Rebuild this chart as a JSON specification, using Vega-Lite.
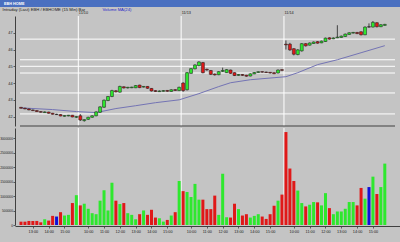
{
"$schema": "https://vega.github.io/schema/vega-lite/v6.json",
"width": 400, "height": 235,
"autosize": {"type": "none"},
"padding": {"left": 0, "top": 7, "right": 0, "bottom": 0},
"background": "#4a70c0",
"title": {"text": "EBH HOME", "anchor": "start", "frame": "group", "offset": 1, "fontSize": 3.8, "color": "#ffffff", "font": "Liberation Sans", "fontWeight": "bold", "dx": 4},
"config": {
  "view": {"fill": "#c4c4c4", "stroke": null},
  "axis": {"labelFont": "Liberation Sans", "labelFontSize": 3.8, "labelColor": "#1a1a1a", "grid": false, "tickColor": "#404040", "domainColor": "#404040", "domainWidth": 1, "tickWidth": 0.8, "tickSize": 2, "labelPadding": 1, "labelFlush": false, "labelOverlap": false}
},
"datasets": {
  "bars": [
    {"i":0,"o":42.55,"h":42.58,"l":42.48,"c":42.50,"v":115000,"d":"down"},
    {"i":1,"o":42.50,"h":42.53,"l":42.44,"c":42.46,"v":115000,"d":"down"},
    {"i":2,"o":42.46,"h":42.48,"l":42.38,"c":42.40,"v":140000,"d":"down"},
    {"i":3,"o":42.40,"h":42.42,"l":42.33,"c":42.36,"v":140000,"d":"down"},
    {"i":4,"o":42.36,"h":42.38,"l":42.28,"c":42.30,"v":140000,"d":"down"},
    {"i":5,"o":42.30,"h":42.32,"l":42.24,"c":42.26,"v":93000,"d":"down"},
    {"i":6,"o":42.24,"h":42.31,"l":42.22,"c":42.28,"v":198000,"d":"up"},
    {"i":7,"o":42.27,"h":42.29,"l":42.18,"c":42.20,"v":152000,"d":"down"},
    {"i":8,"o":42.20,"h":42.22,"l":42.12,"c":42.14,"v":315000,"d":"down"},
    {"i":9,"o":42.14,"h":42.17,"l":42.10,"c":42.12,"v":292000,"d":"flat"},
    {"i":10,"o":42.12,"h":42.14,"l":42.02,"c":42.04,"v":443000,"d":"down"},
    {"i":11,"o":42.02,"h":42.08,"l":42.00,"c":42.06,"v":327000,"d":"up"},
    {"i":12,"o":42.04,"h":42.10,"l":42.02,"c":42.08,"v":350000,"d":"up"},
    {"i":13,"o":42.08,"h":42.10,"l":41.96,"c":41.98,"v":758000,"d":"down"},
    {"i":14,"o":41.96,"h":42.03,"l":41.92,"c":42.00,"v":1030000,"d":"up"},
    {"i":15,"o":42.05,"h":42.15,"l":41.74,"c":41.80,"v":677000,"d":"down"},
    {"i":16,"o":41.76,"h":41.84,"l":41.70,"c":41.82,"v":735000,"d":"up"},
    {"i":17,"o":41.84,"h":41.99,"l":41.80,"c":41.96,"v":560000,"d":"up"},
    {"i":18,"o":41.96,"h":42.08,"l":41.93,"c":42.05,"v":408000,"d":"up"},
    {"i":19,"o":42.05,"h":42.32,"l":42.02,"c":42.28,"v":373000,"d":"up"},
    {"i":20,"o":42.26,"h":42.62,"l":42.22,"c":42.58,"v":840000,"d":"up"},
    {"i":21,"o":42.56,"h":43.02,"l":42.52,"c":42.98,"v":1200000,"d":"up"},
    {"i":22,"o":42.96,"h":43.23,"l":42.92,"c":43.20,"v":502000,"d":"up"},
    {"i":23,"o":43.20,"h":43.60,"l":43.16,"c":43.55,"v":1460000,"d":"up"},
    {"i":24,"o":43.54,"h":43.58,"l":43.44,"c":43.48,"v":840000,"d":"down"},
    {"i":25,"o":43.46,"h":43.84,"l":43.43,"c":43.80,"v":723000,"d":"up"},
    {"i":26,"o":43.78,"h":43.80,"l":43.68,"c":43.71,"v":758000,"d":"down"},
    {"i":27,"o":43.71,"h":43.77,"l":43.68,"c":43.75,"v":408000,"d":"up"},
    {"i":28,"o":43.72,"h":43.78,"l":43.70,"c":43.76,"v":350000,"d":"up"},
    {"i":29,"o":43.72,"h":43.88,"l":43.70,"c":43.85,"v":198000,"d":"up"},
    {"i":30,"o":43.88,"h":43.90,"l":43.70,"c":43.73,"v":373000,"d":"down"},
    {"i":31,"o":43.76,"h":43.82,"l":43.74,"c":43.80,"v":502000,"d":"up"},
    {"i":32,"o":43.80,"h":43.82,"l":43.66,"c":43.69,"v":350000,"d":"down"},
    {"i":33,"o":43.68,"h":43.70,"l":43.50,"c":43.53,"v":525000,"d":"down"},
    {"i":34,"o":43.55,"h":43.57,"l":43.47,"c":43.50,"v":257000,"d":"down"},
    {"i":35,"o":43.49,"h":43.56,"l":43.47,"c":43.53,"v":233000,"d":"up"},
    {"i":36,"o":43.51,"h":43.58,"l":43.49,"c":43.55,"v":117000,"d":"up"},
    {"i":37,"o":43.56,"h":43.58,"l":43.48,"c":43.51,"v":175000,"d":"down"},
    {"i":38,"o":43.50,"h":43.63,"l":43.48,"c":43.60,"v":327000,"d":"up"},
    {"i":39,"o":43.61,"h":43.63,"l":43.53,"c":43.56,"v":443000,"d":"down"},
    {"i":40,"o":43.55,"h":43.78,"l":43.53,"c":43.75,"v":1520000,"d":"up"},
    {"i":41,"o":44.00,"h":44.05,"l":43.48,"c":43.55,"v":1170000,"d":"down"},
    {"i":42,"o":43.60,"h":44.66,"l":43.56,"c":44.62,"v":1140000,"d":"up"},
    {"i":43,"o":44.58,"h":44.90,"l":44.55,"c":44.86,"v":968000,"d":"up"},
    {"i":44,"o":44.85,"h":45.12,"l":44.82,"c":45.08,"v":1420000,"d":"up"},
    {"i":45,"o":45.04,"h":45.30,"l":45.00,"c":45.26,"v":875000,"d":"up"},
    {"i":46,"o":45.22,"h":45.26,"l":44.58,"c":44.62,"v":875000,"d":"down"},
    {"i":47,"o":44.82,"h":44.86,"l":44.74,"c":44.78,"v":548000,"d":"down"},
    {"i":48,"o":44.75,"h":44.78,"l":44.48,"c":44.52,"v":548000,"d":"down"},
    {"i":49,"o":44.54,"h":44.57,"l":44.45,"c":44.49,"v":1015000,"d":"down"},
    {"i":50,"o":44.50,"h":44.71,"l":44.47,"c":44.68,"v":350000,"d":"up"},
    {"i":51,"o":44.70,"h":44.92,"l":44.66,"c":44.75,"v":1770000,"d":"up"},
    {"i":52,"o":44.62,"h":44.83,"l":44.60,"c":44.80,"v":268000,"d":"up"},
    {"i":53,"o":44.78,"h":44.80,"l":44.55,"c":44.58,"v":257000,"d":"down"},
    {"i":54,"o":44.62,"h":44.64,"l":44.42,"c":44.45,"v":735000,"d":"down"},
    {"i":55,"o":44.46,"h":44.53,"l":44.44,"c":44.51,"v":548000,"d":"up"},
    {"i":56,"o":44.51,"h":44.53,"l":44.43,"c":44.46,"v":327000,"d":"down"},
    {"i":57,"o":44.47,"h":44.49,"l":44.38,"c":44.41,"v":373000,"d":"down"},
    {"i":58,"o":44.42,"h":44.58,"l":44.40,"c":44.55,"v":257000,"d":"up"},
    {"i":59,"o":44.55,"h":44.66,"l":44.53,"c":44.63,"v":315000,"d":"up"},
    {"i":60,"o":44.63,"h":44.70,"l":44.61,"c":44.68,"v":373000,"d":"up"},
    {"i":61,"o":44.68,"h":44.70,"l":44.62,"c":44.65,"v":292000,"d":"down"},
    {"i":62,"o":44.66,"h":44.68,"l":44.60,"c":44.63,"v":210000,"d":"down"},
    {"i":63,"o":44.64,"h":44.66,"l":44.57,"c":44.60,"v":373000,"d":"down"},
    {"i":64,"o":44.62,"h":44.64,"l":44.53,"c":44.56,"v":665000,"d":"down"},
    {"i":65,"o":44.60,"h":44.81,"l":44.57,"c":44.78,"v":840000,"d":"up"},
    {"i":66,"o":44.80,"h":44.82,"l":44.73,"c":44.76,"v":1050000,"d":"down"},
    {"i":67,"o":46.32,"h":46.54,"l":46.00,"c":46.28,"v":3210000,"d":"down"},
    {"i":68,"o":46.32,"h":46.40,"l":45.92,"c":45.98,"v":1950000,"d":"down"},
    {"i":69,"o":46.05,"h":46.08,"l":45.65,"c":45.72,"v":1520000,"d":"down"},
    {"i":70,"o":45.70,"h":46.02,"l":45.66,"c":45.98,"v":1190000,"d":"up"},
    {"i":71,"o":45.92,"h":46.38,"l":45.88,"c":46.35,"v":758000,"d":"up"},
    {"i":72,"o":46.35,"h":46.38,"l":46.18,"c":46.22,"v":642000,"d":"down"},
    {"i":73,"o":46.26,"h":46.42,"l":46.24,"c":46.39,"v":700000,"d":"up"},
    {"i":74,"o":46.36,"h":46.48,"l":46.34,"c":46.45,"v":793000,"d":"up"},
    {"i":75,"o":46.47,"h":46.50,"l":46.35,"c":46.38,"v":782000,"d":"down"},
    {"i":76,"o":46.40,"h":46.53,"l":46.38,"c":46.50,"v":677000,"d":"up"},
    {"i":77,"o":46.48,"h":46.71,"l":46.46,"c":46.68,"v":1100000,"d":"up"},
    {"i":78,"o":46.70,"h":46.73,"l":46.59,"c":46.62,"v":583000,"d":"down"},
    {"i":79,"o":46.64,"h":46.72,"l":46.62,"c":46.69,"v":373000,"d":"up"},
    {"i":80,"o":46.70,"h":47.45,"l":46.68,"c":46.74,"v":467000,"d":"up"},
    {"i":81,"o":46.72,"h":46.83,"l":46.70,"c":46.80,"v":467000,"d":"up"},
    {"i":82,"o":46.78,"h":46.95,"l":46.76,"c":46.92,"v":560000,"d":"up"},
    {"i":83,"o":46.90,"h":47.03,"l":46.88,"c":47.00,"v":793000,"d":"up"},
    {"i":84,"o":46.98,"h":47.05,"l":46.96,"c":47.02,"v":793000,"d":"up"},
    {"i":85,"o":47.02,"h":47.05,"l":46.92,"c":46.95,"v":677000,"d":"down"},
    {"i":86,"o":47.06,"h":47.08,"l":46.84,"c":46.88,"v":1280000,"d":"down"},
    {"i":87,"o":46.88,"h":47.38,"l":46.86,"c":47.34,"v":910000,"d":"up"},
    {"i":88,"o":47.36,"h":47.56,"l":47.30,"c":47.34,"v":1310000,"d":"flat"},
    {"i":89,"o":47.34,"h":47.70,"l":47.32,"c":47.62,"v":1670000,"d":"up"},
    {"i":90,"o":47.60,"h":47.63,"l":47.32,"c":47.36,"v":1070000,"d":"down"},
    {"i":91,"o":47.36,"h":47.51,"l":47.34,"c":47.48,"v":1310000,"d":"up"},
    {"i":92,"o":47.44,"h":47.53,"l":47.42,"c":47.50,"v":2120000,"d":"up"}
  ],
  "ma": [
    {"i":0,"ma":42.52},{"i":8,"ma":42.42},{"i":14,"ma":42.30},{"i":19,"ma":42.24},{"i":24,"ma":42.48},
    {"i":29,"ma":42.65},{"i":34,"ma":42.83},{"i":40,"ma":43.00},{"i":45,"ma":43.37},{"i":50,"ma":43.79},
    {"i":53,"ma":44.02},{"i":58,"ma":44.20},{"i":64,"ma":44.32},{"i":67,"ma":44.38},{"i":70,"ma":44.62},
    {"i":75,"ma":45.10},{"i":80,"ma":45.39},{"i":86,"ma":45.81},{"i":92,"ma":46.23}
  ],
  "days": [{"b":14.5,"date":"11/10"},{"b":40.5,"date":"11/13"},{"b":66.5,"date":"11/14"}],
  "levels": [{"p":46.62},{"p":45.39},{"p":45.0},{"p":44.6},{"p":43.41},{"p":42.16}]
},
"resolve": {"scale": {"y": "independent", "color": "independent"}, "axis": {"x": "independent", "y": "independent"}},
"layer": [
  {
    "data": {"name": "levels"},
    "mark": {"type": "rule", "color": "#ffffff", "strokeWidth": 1},
    "encoding": {
      "y": {"field": "p", "type": "quantitative", "scale": {"domain": [41.44, 48.0], "range": [119, 9], "nice": false, "zero": false}, "axis": null},
      "x": {"datum": -0.25, "type": "quantitative", "scale": {"domain": [-0.25, 94.58], "range": [15, 400], "nice": false, "zero": false}, "axis": null},
      "x2": {"datum": 94.58}
    }
  },
  {
    "data": {"name": "days"},
    "mark": {"type": "rule", "color": "#ffffff", "strokeWidth": 1},
    "encoding": {
      "x": {"field": "b", "type": "quantitative", "scale": {"domain": [-0.25, 94.58], "range": [15, 400], "nice": false, "zero": false},
            "axis": {"orient": "top", "offset": -9, "values": [14.5, 40.5, 66.5], "labelExpr": "['11/10','11/13','11/14'][indexof([14.5,40.5,66.5], datum.value)]", "labelAlign": "left", "labelBaseline": "bottom", "labelPadding": 1.2, "labelDx": 1.5, "ticks": false, "domain": false,
                     "title": "Intraday (Last)     EBH / EBHOME (15 Min)     Bar", "titleX": 2, "titleY": -5.8, "titleAlign": "left", "titleBaseline": "alphabetic", "titleFont": "Liberation Sans", "titleFontSize": 4.2, "titleFontWeight": "normal", "titleColor": "#1a1a1a"}},
      "y": {"datum": 41.44, "type": "quantitative", "scale": {"domain": [41.44, 48.0], "range": [119, 9], "nice": false, "zero": false}, "axis": null},
      "y2": {"datum": 48.0}
    }
  },
  {
    "data": {"name": "days"},
    "mark": {"type": "rule", "color": "#ffffff", "strokeWidth": 1},
    "encoding": {
      "x": {"field": "b", "type": "quantitative", "scale": {"domain": [-0.25, 94.58], "range": [15, 400], "nice": false, "zero": false}, "axis": null},
      "y": {"datum": 0, "type": "quantitative", "scale": {"domain": [0, 3350000], "range": [218, 121], "nice": false, "zero": false}, "axis": null},
      "y2": {"datum": 3350000}
    }
  },
  {
    "data": {"name": "ma"},
    "mark": {"type": "line", "color": "#7474b4", "strokeWidth": 1},
    "encoding": {
      "x": {"field": "i", "type": "quantitative", "scale": {"domain": [-0.25, 94.58], "range": [15, 400], "nice": false, "zero": false}, "axis": null},
      "y": {"field": "ma", "type": "quantitative", "scale": {"domain": [41.44, 48.0], "range": [119, 9], "nice": false, "zero": false}, "axis": null}
    }
  },
  {
    "data": {"name": "bars"},
    "mark": {"type": "rule", "color": "#202020", "strokeWidth": 0.8},
    "encoding": {
      "x": {"field": "i", "type": "quantitative", "scale": {"domain": [-0.25, 94.58], "range": [15, 400], "nice": false, "zero": false}, "axis": null},
      "y": {"field": "l", "type": "quantitative", "scale": {"domain": [41.44, 48.0], "range": [119, 9], "nice": false, "zero": false}, "axis": null},
      "y2": {"field": "h"}
    }
  },
  {
    "data": {"name": "bars"},
    "mark": {"type": "bar", "width": 3, "orient": "vertical", "stroke": "#1a1a1a", "strokeWidth": 0.5},
    "encoding": {
      "x": {"field": "i", "type": "quantitative", "scale": {"domain": [-0.25, 94.58], "range": [15, 400], "nice": false, "zero": false}, "axis": null},
      "y": {"field": "o", "type": "quantitative", "scale": {"domain": [41.44, 48.0], "range": [119, 9], "nice": false, "zero": false},
            "axis": {"orient": "left", "offset": -15, "values": [42, 43, 44, 45, 46, 47],
                     "title": "Volume     MA(24)", "titleAngle": 0, "titleX": 87, "titleY": 3.2, "titleAlign": "left", "titleBaseline": "alphabetic", "titleFont": "Liberation Sans", "titleFontSize": 4.2, "titleFontWeight": "normal", "titleColor": "#2828c8"}},
      "y2": {"field": "c"},
      "color": {"field": "d", "type": "nominal", "scale": {"domain": ["up", "down", "flat"], "range": ["#2ee82e", "#e01818", "#303030"]}, "legend": null}
    }
  },
  {
    "data": {"values": [{"z": 1}]},
    "mark": {"type": "rule", "color": "#404040", "strokeWidth": 1},
    "encoding": {
      "y": {"datum": 41.44, "type": "quantitative", "scale": {"domain": [41.44, 48.0], "range": [119, 9], "nice": false, "zero": false}, "axis": null},
      "x": {"datum": -0.25, "type": "quantitative", "scale": {"domain": [-0.25, 94.58], "range": [15, 400], "nice": false, "zero": false}, "axis": null},
      "x2": {"datum": 94.58}
    }
  },
  {
    "data": {"name": "bars"},
    "mark": {"type": "bar", "width": 3, "orient": "vertical"},
    "encoding": {
      "x": {"field": "i", "type": "quantitative", "scale": {"domain": [-0.25, 94.58], "range": [15, 400], "nice": false, "zero": false},
            "axis": {"orient": "bottom", "offset": -16, "title": null, "values": [3, 7, 11, 17, 21, 25, 29, 33, 37, 43, 47, 51, 55, 59, 63, 69, 73, 77, 81, 85, 89],
                     "labelExpr": "['13:00','14:00','15:00','10:00','11:00','12:00','13:00','14:00','15:00','10:00','11:00','12:00','13:00','14:00','15:00','10:00','11:00','12:00','13:00','14:00','15:00'][indexof([3,7,11,17,21,25,29,33,37,43,47,51,55,59,63,69,73,77,81,85,89], datum.value)]"}},
      "y": {"field": "v", "type": "quantitative", "stack": null, "scale": {"domain": [0, 3350000], "range": [218, 121], "nice": false, "zero": false},
            "axis": {"orient": "left", "offset": -15, "title": null, "labelFontSize": 3.3, "labelPadding": 0.5, "values": [0, 500000, 1000000, 1500000, 2000000, 2500000, 3000000], "format": "d"}},
      "color": {"field": "d", "type": "nominal", "scale": {"domain": ["up", "down", "flat"], "range": ["#2ee82e", "#e01818", "#1010d8"]}, "legend": null}
    }
  }
]
}
